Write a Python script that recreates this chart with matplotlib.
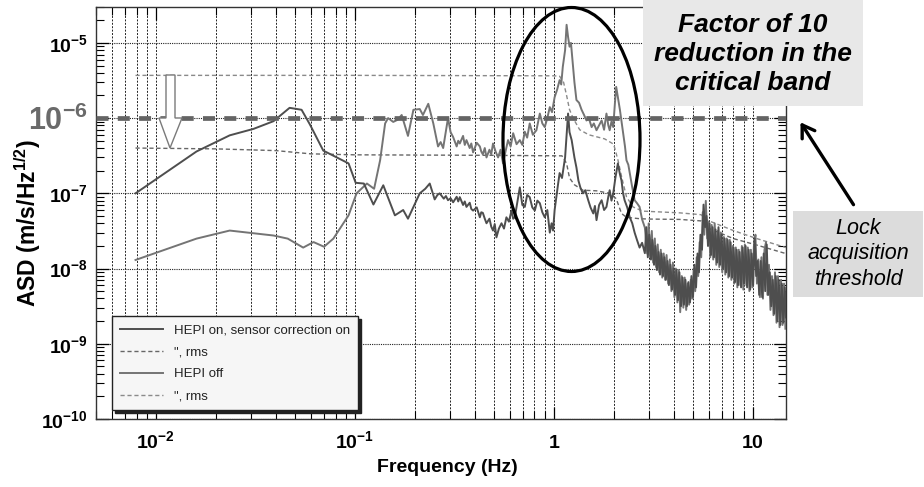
import numpy as np
import matplotlib
matplotlib.use('Agg')
import matplotlib.pyplot as plt
from matplotlib.patches import Ellipse, Rectangle, Polygon, FancyArrowPatch
from matplotlib.ticker import LogLocator, NullFormatter, FixedLocator, FixedFormatter

plt.rcParams['font.family'] = ['Liberation Sans', 'DejaVu Sans']
plt.rcParams['mathtext.fontset'] = 'custom'
plt.rcParams['mathtext.rm'] = 'Liberation Sans'
plt.rcParams['mathtext.bf'] = 'Liberation Sans:bold'
plt.rcParams['mathtext.it'] = 'Liberation Sans:italic'
plt.rcParams['mathtext.sf'] = 'Liberation Sans'

# ---------------- data ----------------
# HEPI on, sensor correction on: 0.008 - 2.9 Hz (ASD, m/s/rtHz)
on_freq_lo = [0.0079, 0.016, 0.0235, 0.031, 0.039, 0.047, 0.054, 0.0595, 0.0694, 0.093,
              0.101, 0.111, 0.124, 0.139, 0.159, 0.175, 0.185, 0.212, 0.226, 0.238,
              0.252, 0.260, 0.267, 0.28, 0.287, 0.294, 0.303, 0.312, 0.325, 0.331,
              0.337, 0.35, 0.357, 0.364, 0.378, 0.385, 0.393, 0.41, 0.425, 0.432,
              0.44, 0.45, 0.459, 0.475, 0.485, 0.495, 0.505, 0.515, 0.53, 0.546,
              0.562, 0.578, 0.595, 0.613, 0.625, 0.637, 0.655, 0.675, 0.695, 0.715,
              0.735, 0.757, 0.78, 0.803, 0.827, 0.851, 0.876, 0.901, 0.928, 0.955,
              0.975, 0.992, 1.01, 1.03, 1.05, 1.07, 1.10, 1.14, 1.16, 1.18,
              1.20, 1.23, 1.27, 1.30, 1.33, 1.36, 1.40, 1.44, 1.49, 1.53,
              1.58, 1.61, 1.64, 1.69, 1.74, 1.79, 1.84, 1.88, 1.91, 1.95,
              1.99, 2.04, 2.10, 2.15, 2.19, 2.23, 2.27, 2.34, 2.41, 2.48,
              2.55, 2.62, 2.70, 2.78, 2.87]
on_asd_lo = [1.0e-7, 3.6e-7, 5.9e-7, 7.2e-7, 9.1e-7, 1.37e-6, 1.29e-6, 8.2e-7, 3.7e-7, 2.5e-7,
             1.38e-7, 1.35e-7, 7.1e-8, 1.28e-7, 5.1e-8, 6.0e-8, 4.6e-8, 1.0e-7, 1.15e-7, 1.35e-7,
             8.3e-8, 9.5e-8, 1.0e-7, 8.5e-8, 9.2e-8, 8.1e-8, 8.6e-8, 7.6e-8, 9.0e-8, 7.8e-8,
             8.9e-8, 7.0e-8, 7.8e-8, 6.6e-8, 7.5e-8, 6.2e-8, 5.9e-8, 6.5e-8, 4.8e-8, 5.6e-8,
             5.5e-8, 4.6e-8, 4.0e-8, 4.6e-8, 3.6e-8, 3.2e-8, 3.9e-8, 2.6e-8, 3.4e-8, 4.0e-8,
             3.4e-8, 4.8e-8, 4.2e-8, 5.9e-8, 4.6e-8, 4.8e-8, 7.5e-8, 1.2e-7, 7.0e-8, 6.6e-8,
             9.5e-8, 8.9e-8, 6.5e-8, 5.9e-8, 8.0e-8, 7.4e-8, 5.6e-8, 4.8e-8, 6.0e-8, 3.0e-8,
             4.0e-8, 3.2e-8, 6.0e-8, 8.9e-8, 1.3e-7, 1.86e-7, 1.6e-7, 3.0e-7, 6.0e-7, 1.15e-6,
             6.5e-7, 5.1e-7, 3.0e-7, 2.2e-7, 1.48e-7, 1.2e-7, 1.0e-7, 1.1e-7, 8.1e-8, 6.5e-8,
             5.4e-8, 6.8e-8, 4.4e-8, 7.0e-8, 8.1e-8, 6.0e-8, 6.6e-8, 9.0e-8, 1.1e-7, 8.0e-8,
             1.0e-7, 1.6e-7, 2.5e-7, 1.8e-7, 1.48e-7, 1.0e-7, 8.1e-8, 6.5e-8, 4.8e-8, 4.0e-8,
             3.0e-8, 2.4e-8, 1.9e-8, 2.2e-8, 1.6e-8]
# HEPI on: 2.9 - 14.7 Hz, values read as log10(ASD)
on_freq_hi = [2.92, 2.97, 3.02, 3.08, 3.13, 3.19, 3.24, 3.30, 3.36, 3.42,
              3.48, 3.54, 3.60, 3.66, 3.73, 3.79, 3.86, 3.93, 4.00, 4.07,
              4.14, 4.21, 4.28, 4.36, 4.44, 4.51, 4.59, 4.67, 4.75, 4.84,
              4.92, 5.01, 5.10, 5.19, 5.28, 5.37, 5.46, 5.56, 5.66, 5.76,
              5.86, 5.96, 6.07, 6.17, 6.28, 6.39, 6.50, 6.62, 6.73, 6.85,
              6.97, 7.10, 7.22, 7.35, 7.48, 7.61, 7.74, 7.88, 8.01, 8.15,
              8.30, 8.44, 8.59, 8.74, 8.90, 9.05, 9.21, 9.37, 9.54, 9.71,
              9.88, 10.05, 10.23, 10.41, 10.59, 10.78, 10.97, 11.16, 11.36, 11.56,
              11.76, 11.97, 12.18, 12.39, 12.61, 12.83, 13.06, 13.29, 13.52, 13.76,
              14.00, 14.25, 14.50, 14.70]
on_log_hi = [-7.45, -7.85, -7.55, -7.88, -7.62, -7.95, -7.70, -8.02, -7.78, -8.08,
             -7.80, -8.10, -7.85, -8.15, -7.90, -8.22, -7.95, -8.28, -8.00, -8.35,
             -8.02, -8.42, -8.05, -8.50, -8.12, -8.48, -8.15, -8.50, -8.18, -8.45,
             -8.10, -8.38, -7.95, -8.25, -7.80, -8.05, -7.55, -7.75, -7.15, -7.45,
             -7.30, -7.70, -7.40, -7.82, -7.45, -7.85, -7.48, -7.92, -7.45, -7.95,
             -7.55, -8.00, -7.60, -8.05, -7.62, -8.10, -7.65, -8.12, -7.72, -8.18,
             -7.75, -8.22, -7.78, -8.25, -7.72, -8.20, -7.70, -8.25, -7.75, -8.28,
             -7.80, -8.22, -7.60, -8.10, -7.90, -8.35, -7.90, -8.38, -7.80, -8.30,
             -7.68, -8.35, -8.05, -8.50, -8.15, -8.60, -8.10, -8.70, -8.15, -8.75,
             -8.20, -8.72, -8.25, -8.65]

# HEPI off: 0.008 - 2.9 Hz
off_freq_lo = [0.0079, 0.016, 0.0235, 0.039, 0.046, 0.055, 0.062, 0.070, 0.078, 0.093,
               0.102, 0.115, 0.125, 0.134, 0.142, 0.147, 0.156, 0.164, 0.172, 0.185,
               0.197, 0.212, 0.22, 0.234, 0.248, 0.262, 0.27, 0.278, 0.294, 0.303,
               0.312, 0.325, 0.331, 0.337, 0.35, 0.357, 0.364, 0.378, 0.385, 0.393,
               0.41, 0.425, 0.432, 0.44, 0.45, 0.459, 0.475, 0.485, 0.495, 0.51,
               0.525, 0.54, 0.556, 0.572, 0.589, 0.607, 0.625, 0.65, 0.675, 0.695,
               0.715, 0.735, 0.757, 0.785, 0.818, 0.835, 0.851, 0.876, 0.901, 0.928,
               0.955, 0.98, 1.01, 1.04, 1.07, 1.09, 1.11, 1.14, 1.16, 1.18,
               1.20, 1.22, 1.25, 1.27, 1.30, 1.34, 1.38, 1.42, 1.46, 1.50,
               1.55, 1.59, 1.64, 1.69, 1.74, 1.79, 1.84, 1.88, 1.91, 1.95,
               1.99, 2.03, 2.06, 2.10, 2.15, 2.19, 2.23, 2.28, 2.32, 2.37,
               2.41, 2.48, 2.55, 2.62, 2.70, 2.78, 2.87]
off_asd_lo = [1.3e-8, 2.5e-8, 3.2e-8, 2.75e-8, 2.5e-8, 1.9e-8, 2.25e-8, 1.95e-8, 2.5e-8, 5.1e-8,
              1.0e-7, 1.35e-7, 1.15e-7, 2.75e-7, 8.5e-7, 1.0e-6, 8.9e-7, 9.5e-7, 1.1e-6, 5.8e-7,
              1.29e-6, 1.32e-6, 1.1e-6, 1.55e-6, 8.5e-7, 4.2e-7, 4.8e-7, 4.0e-7, 1.0e-6, 6.5e-7,
              5.6e-7, 4.2e-7, 5.0e-7, 4.6e-7, 5.8e-7, 4.4e-7, 5.1e-7, 4.0e-7, 4.6e-7, 3.5e-7,
              4.7e-7, 4.2e-7, 3.6e-7, 3.3e-7, 4.0e-7, 3.0e-7, 3.8e-7, 3.3e-7, 4.6e-7, 3.6e-7,
              3.0e-7, 3.8e-7, 2.5e-7, 3.6e-7, 5.1e-7, 4.2e-7, 6.3e-7, 4.5e-7, 5.1e-7, 4.4e-7,
              6.6e-7, 5.5e-7, 8.5e-7, 6.0e-7, 6.9e-7, 9.0e-7, 1.15e-6, 8.5e-7, 7.6e-7, 1.0e-6,
              1.4e-6, 1.2e-6, 1.9e-6, 2.4e-6, 3.2e-6, 2.8e-6, 4.8e-6, 8.0e-6, 1.74e-5, 1.2e-5,
              8.9e-6, 1.0e-5, 4.8e-6, 3.0e-6, 1.74e-6, 1.6e-6, 1.29e-6, 1.1e-6, 9.3e-7, 1.0e-6,
              7.6e-7, 8.5e-7, 6.9e-7, 8.0e-7, 9.3e-7, 7.0e-7, 1.15e-6, 8.0e-7, 6.9e-7, 9.0e-7,
              7.6e-7, 1.6e-6, 2.6e-6, 1.9e-6, 1.29e-6, 9.0e-7, 6.3e-7, 4.2e-7, 2.75e-7, 2.4e-7,
              1.86e-7, 1.2e-7, 8.1e-8, 7.4e-8, 6.6e-8, 4.5e-8, 3.5e-8]
# HEPI off: 2.9 - 14.6 Hz, values read as log10(ASD)
off_freq_hi = [2.95, 3.00, 3.05, 3.11, 3.16, 3.22, 3.27, 3.33, 3.39, 3.45,
               3.51, 3.57, 3.63, 3.69, 3.76, 3.83, 3.90, 3.97, 4.04, 4.11,
               4.18, 4.25, 4.32, 4.40, 4.48, 4.55, 4.63, 4.71, 4.79, 4.88,
               4.96, 5.05, 5.14, 5.23, 5.32, 5.41, 5.51, 5.61, 5.71, 5.81,
               5.91, 6.01, 6.12, 6.22, 6.33, 6.44, 6.56, 6.68, 6.79, 6.91,
               7.03, 7.16, 7.28, 7.41, 7.54, 7.67, 7.81, 7.95, 8.08, 8.22,
               8.37, 8.51, 8.66, 8.82, 8.97, 9.13, 9.29, 9.45, 9.62, 9.79,
               9.96, 10.14, 10.32, 10.50, 10.68, 10.87, 11.06, 11.26, 11.46, 11.66,
               11.86, 12.07, 12.28, 12.50, 12.72, 12.94, 13.17, 13.40, 13.64, 13.88,
               14.12, 14.37, 14.60]
off_log_hi = [-7.80, -7.40, -7.85, -7.50, -7.92, -7.60, -7.98, -7.68, -8.05, -7.75,
              -8.12, -7.80, -8.15, -7.82, -8.20, -7.88, -8.30, -7.92, -8.38, -8.00,
              -8.45, -8.02, -8.58, -8.10, -8.52, -8.12, -8.55, -8.20, -8.48, -8.15,
              -8.40, -8.00, -8.30, -7.85, -8.10, -7.65, -7.85, -7.25, -7.55, -7.10,
              -7.60, -7.38, -7.85, -7.42, -7.88, -7.40, -7.95, -7.50, -7.98, -7.52,
              -8.05, -7.58, -8.08, -7.60, -8.12, -7.62, -8.15, -7.70, -8.20, -7.72,
              -8.25, -7.75, -8.22, -7.70, -8.28, -7.68, -8.22, -7.72, -8.30, -7.75,
              -8.25, -7.70, -7.55, -8.20, -7.88, -8.38, -7.85, -8.40, -7.75, -7.65,
              -8.35, -7.95, -8.55, -8.10, -8.62, -8.05, -8.72, -8.10, -8.78, -8.15,
              -8.75, -8.20, -8.80]

on_rms_freq = [0.0079, 0.02, 0.04, 0.06, 0.1, 0.5, 1.10, 1.16, 1.20, 1.27,
               1.40, 1.64, 1.91, 2.06, 2.19, 2.32, 2.70, 3.0, 4.3, 5.5,
               5.9, 8.0, 10.5, 14.7]
on_rms = [4.0e-7, 3.9e-7, 3.7e-7, 3.35e-7, 3.25e-7, 3.2e-7, 3.15e-7, 2.5e-7, 1.6e-7, 1.3e-7,
          1.1e-7, 1.08e-7, 1.0e-7, 8.5e-8, 5.4e-8, 4.8e-8, 4.6e-8, 4.55e-8, 4.5e-8, 4.3e-8,
          3.5e-8, 2.5e-8, 2.05e-8, 1.58e-8]

off_rms_freq = [0.0079, 0.1, 1.0, 1.07, 1.12, 1.16, 1.20, 1.25, 1.35, 1.5,
                1.8, 2.0, 2.1, 2.2, 2.32, 2.5, 2.8, 4.3, 5.5, 5.9,
                8.0, 10.5, 14.7]
off_rms = [3.7e-6, 3.7e-6, 3.65e-6, 3.6e-6, 3.0e-6, 2.0e-6, 1.3e-6, 1.0e-6, 7.0e-7, 6.0e-7,
           5.3e-7, 4.5e-7, 2.8e-7, 1.6e-7, 9.0e-8, 6.6e-8, 5.8e-8, 5.5e-8, 5.2e-8, 4.4e-8,
           3.2e-8, 2.5e-8, 1.9e-8]

threshold = 1e-6
legend_labels = ['HEPI on, sensor correction on', '", rms', 'HEPI off', '", rms']
xtick_vals = [0.01, 0.1, 1, 10]
xtick_labels = [r'$\mathbf{10^{-2}}$', r'$\mathbf{10^{-1}}$', r'$\mathbf{1}$', r'$\mathbf{10}$']
ytick_vals = [1e-10, 1e-9, 1e-8, 1e-7, 1e-6, 1e-5]
ytick_labels = [r'$\mathbf{10^{-10}}$', r'$\mathbf{10^{-9}}$', r'$\mathbf{10^{-8}}$',
                r'$\mathbf{10^{-7}}$', r'$\mathbf{10^{-6}}$', r'$\mathbf{10^{-5}}$']

on_freq = np.concatenate([on_freq_lo, on_freq_hi])
on_asd = np.concatenate([on_asd_lo, 10.0 ** np.array(on_log_hi)])
off_freq = np.concatenate([off_freq_lo, off_freq_hi])
off_asd = np.concatenate([off_asd_lo, 10.0 ** np.array(off_log_hi)])

# ---------------- figure ----------------
W, H = 924, 487
fig = plt.figure(figsize=(W / 100, H / 100), dpi=100)
ax = fig.add_axes([96 / W, 1 - 419 / H, 690 / W, 412 / H])
ax.set_xscale('log')
ax.set_yscale('log')
ax.set_xlim(0.005, 14.7)
ax.set_ylim(1e-10, 3.0e-5)

c_on, c_off = '#4e4e4e', '#747474'
l2, = ax.plot(on_rms_freq, on_rms, color='#666666', lw=1.0, dashes=(3, 2), zorder=3)
l4, = ax.plot(off_rms_freq, off_rms, color='#8a8a8a', lw=1.0, dashes=(3, 2), zorder=3)
l3, = ax.plot(off_freq, off_asd, color=c_off, lw=1.4, zorder=4)
l1, = ax.plot(on_freq, on_asd, color=c_on, lw=1.4, zorder=4)

# threshold line
ax.axhline(threshold, color='#646464', lw=3.4, dashes=(2.54, 1.97), zorder=5)

# ticks / grid
ax.xaxis.set_major_locator(FixedLocator(xtick_vals))
ax.xaxis.set_major_formatter(FixedFormatter(xtick_labels))
ax.xaxis.set_minor_locator(LogLocator(base=10, subs=np.arange(2, 10)))
ax.xaxis.set_minor_formatter(NullFormatter())
ax.yaxis.set_major_locator(FixedLocator(ytick_vals))
ax.yaxis.set_major_formatter(FixedFormatter(ytick_labels))
ax.yaxis.set_minor_locator(LogLocator(base=10, subs=np.arange(2, 10), numticks=20))
ax.yaxis.set_minor_formatter(NullFormatter())

ax.grid(True, which='both', axis='x', color='#222222', lw=0.7, dashes=(2, 1.5))
ax.grid(True, which='major', axis='y', color='#222222', lw=0.8, dashes=(1, 1))

ax.tick_params(which='both', direction='in', top=True, right=True, colors='black')
ax.tick_params(which='major', length=9, width=0.9)
ax.tick_params(which='minor', length=6, width=0.8)
ax.tick_params(axis='x', which='major', labelsize=14, pad=21)
ax.tick_params(axis='y', which='major', labelsize=14, pad=6)
for t in ax.get_xticklabels():
    t.set_va('baseline')
for t, v in zip(ax.get_yticklabels(), ytick_vals):
    if v == threshold:
        t.set_fontsize(22)
        t.set_color('#6a6a6a')

for s in ax.spines.values():
    s.set_color('#333333')
    s.set_linewidth(1.0)

ax.set_xlabel('Frequency (Hz)', fontsize=14, fontweight='bold')
ax.xaxis.set_label_coords((447 - 96) / 690, (419 - 467) / 412)
ax.set_ylabel(r'ASD (m/s/Hz$^{\mathbf{1/2}}$)', fontsize=16.5, fontweight='bold')
ax.yaxis.set_label_coords((28 - 96) / 690, (419 - 223) / 412)
ax.xaxis.label.set_va('center')
ax.yaxis.label.set_va('center')

leg = ax.legend([l1, l2, l3, l4], legend_labels, loc='upper left',
                bbox_to_anchor=(112 / W, 1 - 316 / H), bbox_transform=fig.transFigure,
                fontsize=9.5, frameon=True, fancybox=False,
                shadow={'color': '#222222', 'alpha': 1.0},
                handlelength=3.3, handletextpad=0.8, labelspacing=0.75,
                borderpad=0.6, borderaxespad=0)
leg.get_frame().set_facecolor('#f6f6f6')
leg.get_frame().set_edgecolor('#222222')
leg.get_frame().set_linewidth(1.0)
leg.get_frame().set_alpha(1.0)
for t in leg.get_texts():
    t.set_color('#222222')
leg.set_zorder(10)


def fp(x, y):
    return (x / W, 1 - y / H)


# open down arrow
arrow_pts = [fp(166, 75), fp(175, 75), fp(175, 118), fp(182, 118), fp(170, 148),
             fp(159, 118), fp(166, 118)]
fig.add_artist(Polygon(arrow_pts, closed=True, facecolor='white', edgecolor='#7a7a7a',
                       lw=1.0, transform=fig.transFigure, zorder=6))

# ellipse around the critical band
fig.add_artist(Ellipse(fp(571.5, 139.5), 137 / W, 264 / H, fill=False, edgecolor='black',
                       lw=2.3, transform=fig.transFigure, zorder=8))

# "Factor of 10" box
fig.add_artist(Rectangle(fp(643, 106), 220 / W, 106 / H, facecolor='#e8e8e8', edgecolor='none',
                         transform=fig.transFigure, zorder=9))
fig.text(753 / W, 1 - 54 / H, 'Factor of 10\nreduction in the\ncritical band',
         ha='center', va='center', fontsize=19, fontweight='bold', fontstyle='italic',
         linespacing=1.25, color='black', zorder=10)

# "Lock acquisition threshold" box
fig.add_artist(Rectangle(fp(793, 297), 130 / W, 86 / H, facecolor='#dcdcdc', edgecolor='none',
                         transform=fig.transFigure, zorder=9))
fig.text(858 / W, 1 - 254 / H, 'Lock\nacquisition\nthreshold',
         ha='center', va='center', fontsize=15.5, fontstyle='italic',
         linespacing=1.26, color='black', zorder=10)

fig.add_artist(FancyArrowPatch(fp(855, 207), fp(799, 120), transform=fig.transFigure,
                               arrowstyle='->,head_length=0.7,head_width=0.45',
                               mutation_scale=12, lw=2.4, color='black', zorder=10))

fig.savefig('out.png', dpi=100, facecolor='white')
